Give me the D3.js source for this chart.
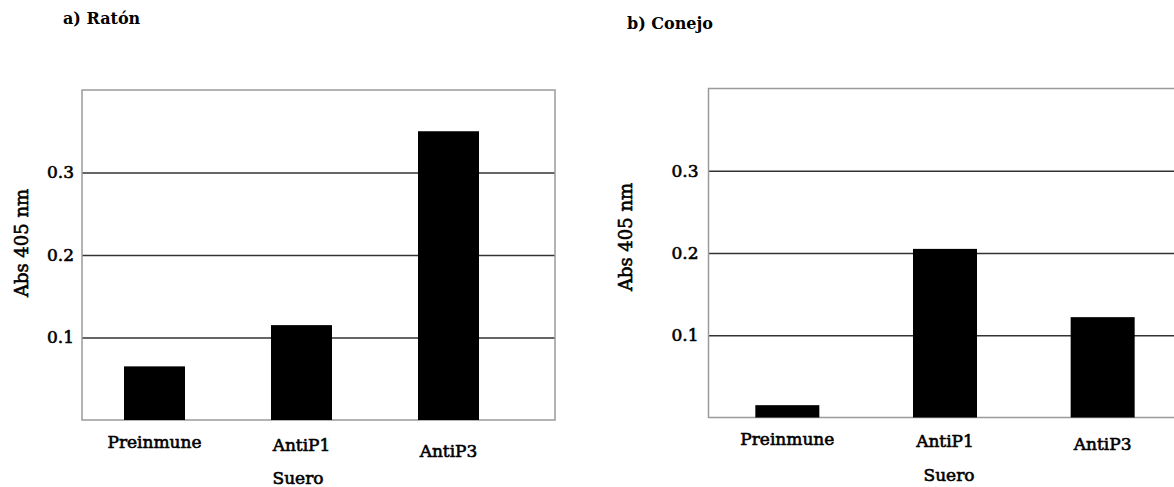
<!DOCTYPE html>
<html>
<head>
<meta charset="utf-8">
<script src="https://cdnjs.cloudflare.com/ajax/libs/d3/7.8.5/d3.min.js"></script>
<style>
  body { margin: 0; background: #fff; }
  text { font-family: "DejaVu Serif", serif; fill: #000; stroke: #000; stroke-width: 0.6px; }
</style>
</head>
<body>
<div id="container"></div>
<script>
let w = 1174;
let h = 487;

// data
let categories = ["Preinmune", "AntiP1", "AntiP3"];
let ratonValues = [0.065, 0.115, 0.35];
let conejoValues = [0.015, 0.205, 0.122];
let yTicks = [0.1, 0.2, 0.3];
let yMax = 0.4;

let viz = d3.select("#container")
  .append("svg")
    .attr("width", w)
    .attr("height", h)
;

function drawPanel(opt){
  let g = viz.append("g").attr("class", "panel");

  let yScale = d3.scaleLinear().domain([0, yMax]).range([opt.bottom, opt.top]);
  let xScale = d3.scaleBand().domain(categories).range(opt.band).paddingInner(opt.pad).paddingOuter(opt.pad / 2);

  // grid lines
  let yGrid = d3.axisLeft(yScale).tickValues(yTicks).tickSize(-(opt.right - opt.left)).tickFormat("");
  let gridGroup = g.append("g").attr("transform", "translate(" + opt.left + ",0)").call(yGrid);
  gridGroup.select(".domain").remove();
  gridGroup.selectAll("line").attr("stroke", "#333").attr("stroke-width", 1.6);

  // frame
  g.append("rect")
    .attr("x", opt.left)
    .attr("y", opt.top)
    .attr("width", opt.right - opt.left)
    .attr("height", opt.bottom - opt.top)
    .attr("fill", "none")
    .attr("stroke", "#9a9a9a")
    .attr("stroke-width", 1.5)
  ;

  // bars
  g.selectAll(".bar").data(opt.values).enter()
    .append("rect")
      .attr("class", "bar")
      .attr("x", function(d,i){ return xScale(categories[i]); })
      .attr("width", xScale.bandwidth())
      .attr("y", function(d,i){ return yScale(d); })
      .attr("height", function(d,i){ return opt.bottom - yScale(d); })
      .attr("fill", "#000")
  ;

  // y tick labels
  let yAxis = d3.axisLeft(yScale).tickValues(yTicks).tickSize(0).tickPadding(opt.tickPad).tickFormat(d3.format(".1f"));
  let yAxisGroup = g.append("g").attr("transform", "translate(" + opt.left + ",0)").call(yAxis);
  yAxisGroup.select(".domain").remove();
  yAxisGroup.selectAll("text")
    .attr("font-family", "DejaVu Serif")
    .attr("font-size", 17)
    .attr("fill", "#000")
  ;

  // category labels
  g.selectAll(".cat").data(categories).enter()
    .append("text")
      .attr("class", "cat")
      .attr("x", function(d){ return xScale(d) + xScale.bandwidth() / 2; })
      .attr("y", function(d,i){ return opt.labelY[i]; })
      .attr("text-anchor", "middle")
      .attr("font-size", 17)
      .text(function(d){ return d; })
  ;

  g.append("text")
    .attr("x", opt.suero[0])
    .attr("y", opt.suero[1])
    .attr("text-anchor", "middle")
    .attr("font-size", 17)
    .text("Suero")
  ;

  g.append("text")
    .attr("transform", "translate(" + opt.yTitle[0] + "," + opt.yTitle[1] + ") rotate(-90)")
    .attr("text-anchor", "middle")
    .attr("font-size", 18)
    .text("Abs 405 nm")
  ;

  g.append("text")
    .attr("x", opt.title[0])
    .attr("y", opt.title[1])
    .attr("font-size", 16)
    .attr("font-weight", "bold")
    .style("stroke-width", "0px")
    .text(opt.name)
  ;
}

drawPanel({
  name: "a) Ratón",
  values: ratonValues,
  left: 82, right: 555, top: 90, bottom: 420,
  band: [81, 522], pad: 0.585,
  tickPad: 8,
  labelY: [448, 451, 457],
  suero: [298, 484],
  yTitle: [28, 243],
  title: [63, 24]
});

drawPanel({
  name: "b) Conejo",
  values: conejoValues,
  left: 708.5, right: 1181.5, top: 88.5, bottom: 417.5,
  band: [708.5, 1181.5], pad: 0.594,
  tickPad: 10,
  labelY: [445, 447, 450],
  suero: [949, 481],
  yTitle: [632, 237],
  title: [627, 29]
});
</script>
</body>
</html>
